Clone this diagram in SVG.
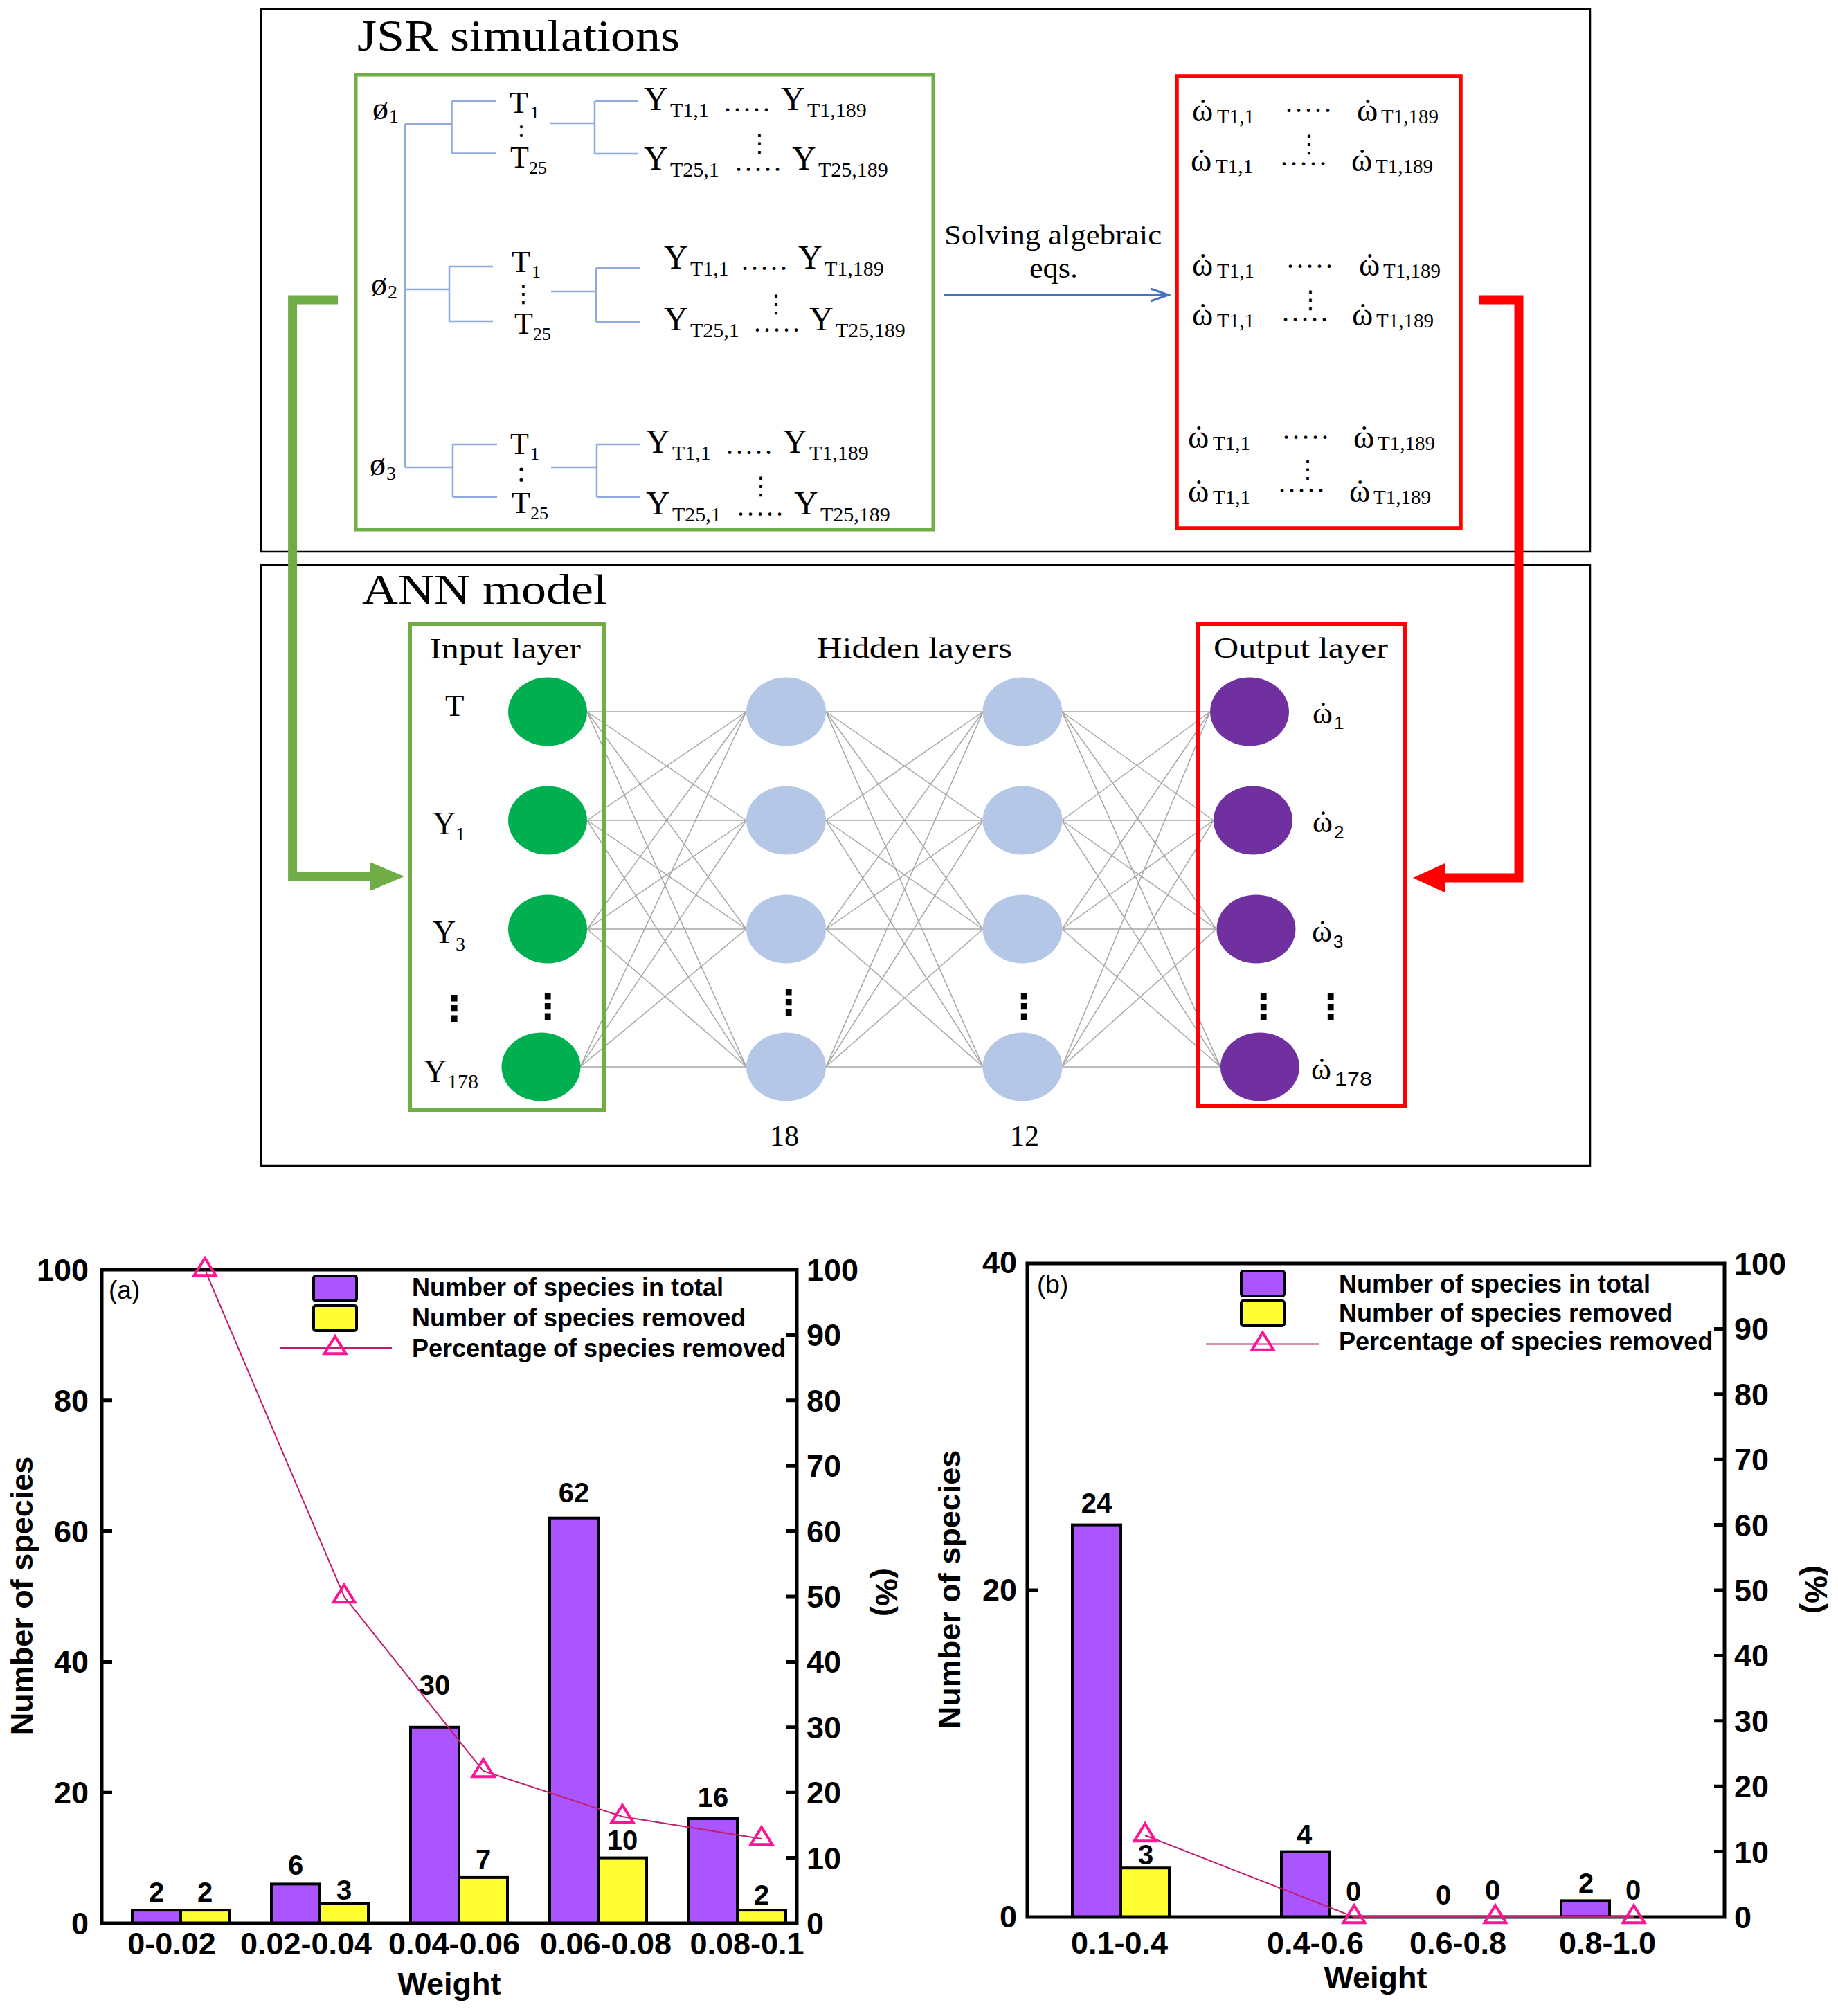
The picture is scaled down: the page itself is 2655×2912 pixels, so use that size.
<svg xmlns="http://www.w3.org/2000/svg" width="2655" height="2912" viewBox="0 0 2655 2912">
<defs>
<style>
.ser{font-family:"Liberation Serif","Times New Roman",serif;fill:#000}
.sans{font-family:"Liberation Sans",Arial,sans-serif;fill:#000}
.tree{stroke:#8FAADC;stroke-width:2.5;fill:none}
.ann{stroke:#A6A6A6;stroke-width:1.5;fill:none}
.in{fill:#00B050}
.hid{fill:#B4C7E7}
.out{fill:#7030A0}
.gbox{fill:none;stroke:#70AD47;stroke-width:5}
.rbox{fill:none;stroke:#FF0000;stroke-width:5.5}
.panel{fill:none;stroke:#000;stroke-width:2.5}
.dots{font-size:40px;letter-spacing:4px}
.vd{font-family:"DejaVu Sans",sans-serif;text-anchor:middle;fill:#000}
.frame{fill:none;stroke:#000;stroke-width:5}
.tick{stroke:#000;stroke-width:5;fill:none}
.bp{fill:#AA55FF;stroke:#000;stroke-width:4}
.by{fill:#FFFF33;stroke:#000;stroke-width:4}
.pct{fill:none;stroke:#C21E6E;stroke-width:2}
.lbl{font-family:"Liberation Sans",Arial,sans-serif;font-weight:bold;font-size:40px;text-anchor:middle}
.ax{font-family:"Liberation Sans",Arial,sans-serif;font-weight:bold;font-size:45px}
.leg{font-family:"Liberation Sans",Arial,sans-serif;font-weight:bold;font-size:36px}
</style>
<marker id="tri" markerUnits="userSpaceOnUse" markerWidth="40" markerHeight="40" refX="20" refY="20" orient="0" overflow="visible"><path d="M20 3.3L35.5 28.3H4.5Z" fill="none" stroke="#FF1493" stroke-width="4"/></marker>
<marker id="ahG" markerUnits="userSpaceOnUse" markerWidth="50" markerHeight="42" refX="2" refY="21" orient="auto"><path d="M0 0L50 21L0 42Z" fill="#70AD47"/></marker>
<marker id="ahR" markerUnits="userSpaceOnUse" markerWidth="46" markerHeight="42" refX="2" refY="21" orient="auto"><path d="M0 0L46 21L0 42Z" fill="#FF0000"/></marker>
<marker id="ahB" markerUnits="userSpaceOnUse" markerWidth="30" markerHeight="24" refX="27" refY="10" orient="auto" overflow="visible"><path d="M1 1L27 10L1 19" fill="none" stroke="#4472C4" stroke-width="3"/></marker>
</defs>
<rect x="0" y="0" width="2655" height="2912" fill="#fff"/>

<!-- Panels -->
<g id="panel-jsr">
<rect class="panel" x="377" y="13" width="1920" height="784"/>
<text class="ser" x="516" y="73" font-size="64" textLength="466" lengthAdjust="spacingAndGlyphs">JSR simulations</text>
</g>
<g id="panel-ann">
<rect class="panel" x="377" y="816" width="1920" height="868"/>
<text class="ser" x="523" y="872" font-size="62" textLength="354" lengthAdjust="spacingAndGlyphs">ANN model</text>
</g>

<!-- Connectors -->
<g id="connectors">
<path d="M848 1028L1078 1028M848 1028L1078 1185M848 1028L1078 1342M848 1028L1078 1541M848 1185L1078 1028M848 1185L1078 1185M848 1185L1078 1342M848 1185L1078 1541M848 1342L1078 1028M848 1342L1078 1185M848 1342L1078 1342M848 1342L1078 1541M838 1541L1078 1028M838 1541L1078 1185M838 1541L1078 1342M838 1541L1078 1541" class="ann"/>
<path d="M1193 1028L1420 1028M1193 1028L1420 1185M1193 1028L1420 1342M1193 1028L1420 1541M1193 1185L1420 1028M1193 1185L1420 1185M1193 1185L1420 1342M1193 1185L1420 1541M1193 1342L1420 1028M1193 1342L1420 1185M1193 1342L1420 1342M1193 1342L1420 1541M1193 1541L1420 1028M1193 1541L1420 1185M1193 1541L1420 1342M1193 1541L1420 1541" class="ann"/>
<path d="M1534 1028L1748 1028M1534 1028L1753 1185M1534 1028L1757 1342M1534 1028L1763 1541M1534 1185L1748 1028M1534 1185L1753 1185M1534 1185L1757 1342M1534 1185L1763 1541M1534 1342L1748 1028M1534 1342L1753 1185M1534 1342L1757 1342M1534 1342L1763 1541M1534 1541L1748 1028M1534 1541L1753 1185M1534 1541L1757 1342M1534 1541L1763 1541" class="ann"/>
<path d="M488 433H422.6V1266H536" fill="none" stroke="#70AD47" stroke-width="13" stroke-linejoin="miter" marker-end="url(#ahG)"/>
<path d="M2136 433H2194V1268H2085" fill="none" stroke="#FF0000" stroke-width="13" stroke-linejoin="miter" marker-end="url(#ahR)"/>
<path d="M1364 426H1688" fill="none" stroke="#4472C4" stroke-width="3" marker-end="url(#ahB)"/>
<text class="ser" x="1364" y="353" font-size="40" textLength="314" lengthAdjust="spacingAndGlyphs">Solving algebraic</text>
<text class="ser" x="1487" y="401" font-size="40" textLength="70" lengthAdjust="spacingAndGlyphs">eqs.</text>
</g>

<!-- JSR inputs (green box) -->
<g id="jsr-inputs">
<rect class="gbox" x="514" y="108" width="834" height="657"/>
<path class="tree" d="M585 179V675M585 179H652.5M652.5 146V221.5M652.5 146H716M652.5 221.5H716M794 178H859M859 146V222M859 146H922M859 222H922M585 418H649M649 385V464M649 385H712M649 464H712M796 421H861M861 387V465M861 387H924M861 465H924M585 675H654M654 642V718M654 642H718M654 718H718M796 675H862M862 642V718M862 642H925M862 718H925"/>
<text class="ser" font-size="46"><tspan x="538" y="172">ø</tspan><tspan x="562" y="177" font-size="28">1</tspan></text>
<text class="ser" font-size="46"><tspan x="536" y="426">ø</tspan><tspan x="560" y="431" font-size="28">2</tspan></text>
<text class="ser" font-size="46"><tspan x="534" y="686">ø</tspan><tspan x="558" y="693" font-size="28">3</tspan></text>
<text class="ser" font-size="44"><tspan x="736" y="163">T</tspan><tspan x="766" y="171" font-size="26">1</tspan></text>
<text class="ser" font-size="36" x="753" y="198" text-anchor="middle">:</text>
<text class="ser" font-size="44"><tspan x="737" y="242">T</tspan><tspan x="764" y="251" font-size="26">25</tspan></text>
<text class="ser" font-size="44"><tspan x="739" y="393">T</tspan><tspan x="768" y="401" font-size="26">1</tspan></text>
<text class="vd" font-size="34" x="756" y="436">⋮</text>
<text class="ser" font-size="44"><tspan x="743" y="482">T</tspan><tspan x="770" y="491" font-size="26">25</tspan></text>
<text class="ser" font-size="44"><tspan x="737" y="656">T</tspan><tspan x="766" y="664" font-size="26">1</tspan></text>
<text class="ser" font-size="45" x="753" y="696" text-anchor="middle">:</text>
<text class="ser" font-size="44"><tspan x="739" y="741">T</tspan><tspan x="766" y="750" font-size="26">25</tspan></text>
<text class="ser" font-size="48"><tspan x="930" y="159">Y</tspan><tspan x="968" y="169" font-size="30">T1,1</tspan><tspan class="dots" x="1046" y="161">.....</tspan><tspan x="1128" y="159">Y</tspan><tspan x="1166" y="169" font-size="30">T1,189</tspan></text>
<text class="vd" font-size="36" x="1097" y="219">⋮</text>
<text class="ser" font-size="48"><tspan x="930" y="245">Y</tspan><tspan x="968" y="255" font-size="30">T25,1</tspan><tspan class="dots" x="1062" y="247">.....</tspan><tspan x="1144" y="245">Y</tspan><tspan x="1182" y="255" font-size="30">T25,189</tspan></text>
<text class="ser" font-size="48"><tspan x="959" y="388">Y</tspan><tspan x="997" y="398" font-size="30">T1,1</tspan><tspan class="dots" x="1071" y="390">.....</tspan><tspan x="1153" y="388">Y</tspan><tspan x="1191" y="398" font-size="30">T1,189</tspan></text>
<text class="vd" font-size="36" x="1121" y="451">⋮</text>
<text class="ser" font-size="48"><tspan x="959" y="477">Y</tspan><tspan x="997" y="487" font-size="30">T25,1</tspan><tspan class="dots" x="1089" y="479">.....</tspan><tspan x="1169" y="477">Y</tspan><tspan x="1207" y="487" font-size="30">T25,189</tspan></text>
<text class="ser" font-size="48"><tspan x="933" y="654">Y</tspan><tspan x="971" y="664" font-size="30">T1,1</tspan><tspan class="dots" x="1049" y="656">.....</tspan><tspan x="1131" y="654">Y</tspan><tspan x="1169" y="664" font-size="30">T1,189</tspan></text>
<text class="vd" font-size="36" x="1099" y="714">⋮</text>
<text class="ser" font-size="48"><tspan x="933" y="743">Y</tspan><tspan x="971" y="753" font-size="30">T25,1</tspan><tspan class="dots" x="1065" y="745">.....</tspan><tspan x="1147" y="743">Y</tspan><tspan x="1185" y="753" font-size="30">T25,189</tspan></text>
</g>

<!-- JSR outputs (red box) -->
<g id="jsr-outputs">
<rect class="rbox" x="1700" y="110" width="410" height="653"/>
<text class="ser" font-size="46"><tspan x="1722" y="175">ω</tspan><tspan x="1730" y="175">˙</tspan><tspan x="1758" y="178" font-size="29">T1,1</tspan><tspan class="dots" x="1857" y="162">.....</tspan><tspan x="1960" y="175">ω</tspan><tspan x="1968" y="175">˙</tspan><tspan x="1995" y="178" font-size="29">T1,189</tspan></text>
<text class="vd" font-size="36" x="1891" y="220">⋮</text>
<text class="ser" font-size="46"><tspan x="1720" y="247">ω</tspan><tspan x="1728" y="247">˙</tspan><tspan x="1756" y="250" font-size="29">T1,1</tspan><tspan class="dots" x="1850" y="239">.....</tspan><tspan x="1952" y="247">ω</tspan><tspan x="1960" y="247">˙</tspan><tspan x="1987" y="250" font-size="29">T1,189</tspan></text>
<text class="ser" font-size="46"><tspan x="1722" y="398">ω</tspan><tspan x="1730" y="398">˙</tspan><tspan x="1758" y="401" font-size="29">T1,1</tspan><tspan class="dots" x="1859" y="387">.....</tspan><tspan x="1963" y="398">ω</tspan><tspan x="1971" y="398">˙</tspan><tspan x="1998" y="401" font-size="29">T1,189</tspan></text>
<text class="vd" font-size="36" x="1893" y="445">⋮</text>
<text class="ser" font-size="46"><tspan x="1722" y="470">ω</tspan><tspan x="1730" y="470">˙</tspan><tspan x="1758" y="473" font-size="29">T1,1</tspan><tspan class="dots" x="1852" y="464">.....</tspan><tspan x="1953" y="470">ω</tspan><tspan x="1961" y="470">˙</tspan><tspan x="1988" y="473" font-size="29">T1,189</tspan></text>
<text class="ser" font-size="46"><tspan x="1716" y="647">ω</tspan><tspan x="1724" y="647">˙</tspan><tspan x="1752" y="650" font-size="29">T1,1</tspan><tspan class="dots" x="1853" y="634">.....</tspan><tspan x="1955" y="647">ω</tspan><tspan x="1963" y="647">˙</tspan><tspan x="1990" y="650" font-size="29">T1,189</tspan></text>
<text class="vd" font-size="36" x="1889" y="690">⋮</text>
<text class="ser" font-size="46"><tspan x="1716" y="725">ω</tspan><tspan x="1724" y="725">˙</tspan><tspan x="1752" y="728" font-size="29">T1,1</tspan><tspan class="dots" x="1847" y="711">.....</tspan><tspan x="1949" y="725">ω</tspan><tspan x="1957" y="725">˙</tspan><tspan x="1984" y="728" font-size="29">T1,189</tspan></text>
</g>

<!-- Input layer -->
<g id="input-layer">
<rect x="592" y="901" width="281" height="702" fill="none" stroke="#70AD47" stroke-width="6"/>
<text class="ser" x="621" y="951" font-size="42" textLength="218" lengthAdjust="spacingAndGlyphs">Input layer</text>
<text class="ser" x="643" y="1034" font-size="45">T</text>
<text class="ser" font-size="46"><tspan x="625" y="1205">Y</tspan><tspan x="658" y="1214" font-size="28">1</tspan></text>
<text class="ser" font-size="46"><tspan x="625" y="1362">Y</tspan><tspan x="658" y="1373" font-size="28">3</tspan></text>
<text class="ser" font-size="46"><tspan x="612" y="1563">Y</tspan><tspan x="646" y="1572" font-size="30">178</tspan></text>
<text class="vd" font-weight="bold" font-size="50" x="656" y="1474">⋮</text>
<text class="vd" font-weight="bold" font-size="50" x="791" y="1471">⋮</text>
<g id="in-1"><ellipse class="in" cx="791" cy="1028" rx="57" ry="49.5"/></g>
<g id="in-2"><ellipse class="in" cx="791" cy="1185" rx="57" ry="49.5"/></g>
<g id="in-3"><ellipse class="in" cx="791" cy="1342" rx="57" ry="49.5"/></g>
<g id="in-4"><ellipse class="in" cx="781.5" cy="1541" rx="57" ry="49.5"/></g>
</g>

<!-- Hidden layers -->
<g id="hidden-layers">
<text class="ser" x="1180" y="950" font-size="42" textLength="282" lengthAdjust="spacingAndGlyphs">Hidden layers</text>
<g id="h1-1"><ellipse class="hid" cx="1135.5" cy="1028" rx="57.5" ry="49.5"/></g>
<g id="h1-2"><ellipse class="hid" cx="1135.5" cy="1185" rx="57.5" ry="49.5"/></g>
<g id="h1-3"><ellipse class="hid" cx="1135.5" cy="1342" rx="57.5" ry="49.5"/></g>
<g id="h1-4"><ellipse class="hid" cx="1135.5" cy="1541" rx="57.5" ry="49.5"/></g>
<text class="vd" font-weight="bold" font-size="50" x="1139" y="1465">⋮</text>
<text class="ser" x="1133" y="1655" font-size="42" text-anchor="middle">18</text>
<g id="h2-1"><ellipse class="hid" cx="1477" cy="1028" rx="57.5" ry="49.5"/></g>
<g id="h2-2"><ellipse class="hid" cx="1477" cy="1185" rx="57.5" ry="49.5"/></g>
<g id="h2-3"><ellipse class="hid" cx="1477" cy="1342" rx="57.5" ry="49.5"/></g>
<g id="h2-4"><ellipse class="hid" cx="1477" cy="1541" rx="57.5" ry="49.5"/></g>
<text class="vd" font-weight="bold" font-size="50" x="1479" y="1471">⋮</text>
<text class="ser" x="1480" y="1655" font-size="42" text-anchor="middle">12</text>
</g>

<!-- Output layer -->
<g id="output-layer">
<rect x="1730" y="901" width="300" height="697" fill="none" stroke="#FF0000" stroke-width="6"/>
<text class="ser" x="1753" y="950" font-size="42" textLength="252" lengthAdjust="spacingAndGlyphs">Output layer</text>
<g id="out-1"><ellipse class="out" cx="1805" cy="1028" rx="57" ry="49.5"/></g>
<g id="out-2"><ellipse class="out" cx="1810" cy="1185" rx="57" ry="49.5"/></g>
<g id="out-3"><ellipse class="out" cx="1814.5" cy="1342" rx="57" ry="49.5"/></g>
<g id="out-4"><ellipse class="out" cx="1820" cy="1541" rx="57" ry="49.5"/></g>
<text class="ser" font-size="44"><tspan x="1896" y="1045">ω</tspan><tspan x="1904" y="1045">˙</tspan><tspan class="sans" x="1927" y="1053" font-size="26">1</tspan></text>
<text class="ser" font-size="44"><tspan x="1896" y="1202">ω</tspan><tspan x="1904" y="1202">˙</tspan><tspan class="sans" x="1927" y="1211" font-size="26">2</tspan></text>
<text class="ser" font-size="44"><tspan x="1895" y="1360">ω</tspan><tspan x="1903" y="1360">˙</tspan><tspan class="sans" x="1926" y="1369" font-size="26">3</tspan></text>
<text class="ser" font-size="44"><tspan x="1894" y="1559">ω</tspan><tspan x="1902" y="1559">˙</tspan><tspan class="sans" x="1928" y="1568" font-size="27" textLength="54" lengthAdjust="spacingAndGlyphs">178</tspan></text>
<text class="vd" font-weight="bold" font-size="50" x="1825" y="1472">⋮</text>
<text class="vd" font-weight="bold" font-size="50" x="1922" y="1472">⋮</text>
</g>

<!-- Chart (a) -->
<g id="chart-a">
<rect class="bp" x="191" y="2759.1" width="70" height="18.9"/>
<rect class="by" x="261" y="2759.1" width="70" height="18.9"/>
<rect class="bp" x="392" y="2721.4" width="70" height="56.6"/>
<rect class="by" x="462" y="2749.7" width="70" height="28.3"/>
<rect class="bp" x="593" y="2494.8" width="70" height="283.2"/>
<rect class="by" x="663" y="2711.9" width="70" height="66.1"/>
<rect class="bp" x="794" y="2192.7" width="70" height="585.3"/>
<rect class="by" x="864" y="2683.6" width="70" height="94.4"/>
<rect class="bp" x="995" y="2627" width="70" height="151"/>
<rect class="by" x="1065" y="2759.1" width="70" height="18.9"/>
<rect class="frame" x="147" y="1834" width="1004" height="944"/>
<path class="tick" d="M147 2589.2h15M147 2400.4h15M147 2211.6h15M147 2022.8h15M1151 2683.6h-15M1151 2589.2h-15M1151 2494.8h-15M1151 2400.4h-15M1151 2306h-15M1151 2211.6h-15M1151 2117.2h-15M1151 2022.8h-15M1151 1928.4h-15"/>
<polyline class="pct" points="296,1834 497,2306 698,2558 899,2624 1100,2656" marker-start="url(#tri)" marker-mid="url(#tri)" marker-end="url(#tri)"/>
<text class="lbl" x="226" y="2747">2</text>
<text class="lbl" x="296" y="2747">2</text>
<text class="lbl" x="427" y="2708">6</text>
<text class="lbl" x="497" y="2744">3</text>
<text class="lbl" x="628" y="2448">30</text>
<text class="lbl" x="698" y="2700">7</text>
<text class="lbl" x="829" y="2170">62</text>
<text class="lbl" x="899" y="2672">10</text>
<text class="lbl" x="1030" y="2610">16</text>
<text class="lbl" x="1100" y="2751">2</text>
<g class="ax" text-anchor="end">
<text x="128" y="1850">100</text><text x="128" y="2039">80</text><text x="128" y="2228">60</text><text x="128" y="2416">40</text><text x="128" y="2605">20</text><text x="128" y="2794">0</text>
</g>
<g class="ax">
<text x="1165" y="2794">0</text><text x="1165" y="2700">10</text><text x="1165" y="2605">20</text><text x="1165" y="2511">30</text><text x="1165" y="2416">40</text><text x="1165" y="2322">50</text><text x="1165" y="2228">60</text><text x="1165" y="2133">70</text><text x="1165" y="2039">80</text><text x="1165" y="1944">90</text><text x="1165" y="1850">100</text>
</g>
<g class="ax" font-size="47" text-anchor="middle">
<text x="248" y="2823">0-0.02</text><text x="442" y="2823">0.02-0.04</text><text x="656" y="2823">0.04-0.06</text><text x="875" y="2823">0.06-0.08</text><text x="1079" y="2823">0.08-0.1</text>
</g>
<text class="ax" x="649" y="2881" font-size="48" text-anchor="middle">Weight</text>
<text class="ax" transform="translate(47,2305) rotate(-90)" text-anchor="middle">Number of species</text>
<text class="ax" transform="translate(1265,2300) rotate(90)" font-size="46" text-anchor="middle">(%)</text>
<text class="sans" x="157" y="1876" font-size="37">(a)</text>
<rect class="bp" x="453" y="1843" width="62" height="36" rx="3"/>
<rect class="by" x="453" y="1886" width="62" height="36" rx="3"/>
<path class="pct" d="M404 1947L484 1947L566 1947" marker-mid="url(#tri)"/>
<text class="leg" x="595" y="1872">Number of species in total</text>
<text class="leg" x="595" y="1916">Number of species removed</text>
<text class="leg" x="595" y="1960">Percentage of species removed</text>
</g>

<!-- Chart (b) -->
<g id="chart-b">
<rect class="bp" x="1549" y="2202.6" width="70" height="566.4"/>
<rect class="by" x="1619" y="2698.2" width="70" height="70.8"/>
<rect class="bp" x="1851" y="2674.6" width="70" height="94.4"/>
<rect class="bp" x="2255" y="2745.4" width="70" height="23.6"/>
<rect class="frame" x="1484" y="1825" width="1007" height="944"/>
<path class="tick" d="M1484 2297h15M2491 2674.6h-15M2491 2580.2h-15M2491 2485.8h-15M2491 2391.4h-15M2491 2297h-15M2491 2202.6h-15M2491 2108.2h-15M2491 2013.8h-15M2491 1919.4h-15"/>
<polyline class="pct" points="1654,2651 1956,2769 2160,2769 2360,2769" marker-start="url(#tri)" marker-mid="url(#tri)" marker-end="url(#tri)"/>
<text class="lbl" x="1584" y="2185">24</text>
<text class="lbl" x="1655" y="2693">3</text>
<text class="lbl" x="1884" y="2664">4</text>
<text class="lbl" x="1955" y="2746">0</text>
<text class="lbl" x="2085" y="2751">0</text>
<text class="lbl" x="2156" y="2744">0</text>
<text class="lbl" x="2291" y="2734">2</text>
<text class="lbl" x="2359" y="2744">0</text>
<g class="ax" font-size="42" text-anchor="end">
<text x="1469" y="1839">40</text><text x="1469" y="2312">20</text><text x="1469" y="2784">0</text>
</g>
<g class="ax">
<text x="2505" y="2785">0</text><text x="2505" y="2691">10</text><text x="2505" y="2596">20</text><text x="2505" y="2502">30</text><text x="2505" y="2407">40</text><text x="2505" y="2313">50</text><text x="2505" y="2219">60</text><text x="2505" y="2124">70</text><text x="2505" y="2030">80</text><text x="2505" y="1935">90</text><text x="2505" y="1841">100</text>
</g>
<g class="ax" font-size="42" text-anchor="middle">
<text x="1617" y="2822">0.1-0.4</text><text x="1900" y="2822">0.4-0.6</text><text x="2106" y="2822">0.6-0.8</text><text x="2322" y="2822">0.8-1.0</text>
</g>
<text class="ax" x="1987" y="2872" font-size="48" text-anchor="middle">Weight</text>
<text class="ax" transform="translate(1387,2296) rotate(-90)" text-anchor="middle">Number of species</text>
<text class="ax" transform="translate(2608,2296) rotate(90)" font-size="46" text-anchor="middle">(%)</text>
<text class="sans" x="1498" y="1868" font-size="37">(b)</text>
<rect class="bp" x="1793" y="1836" width="62" height="36" rx="3"/>
<rect class="by" x="1793" y="1879" width="62" height="36" rx="3"/>
<path class="pct" d="M1742 1941.5L1824 1941.5L1905 1941.5" marker-mid="url(#tri)"/>
<text class="leg" x="1934" y="1867">Number of species in total</text>
<text class="leg" x="1934" y="1909">Number of species removed</text>
<text class="leg" x="1934" y="1950">Percentage of species removed</text>
</g>
</svg>
